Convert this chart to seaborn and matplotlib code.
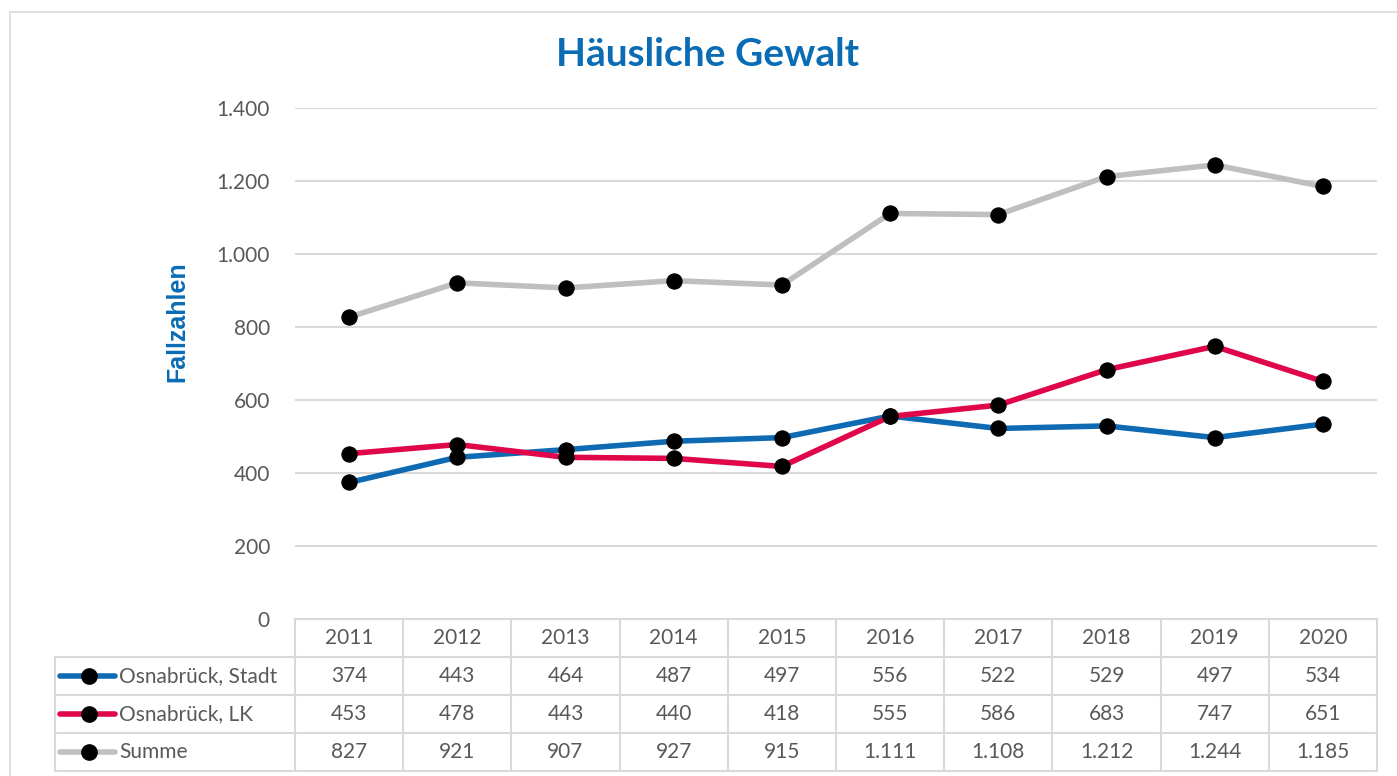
import matplotlib
matplotlib.use("Agg")
import matplotlib.pyplot as plt
import matplotlib.patches as mpatches
import pandas as pd
import seaborn as sns

# Data
years = [2011, 2012, 2013, 2014, 2015, 2016, 2017, 2018, 2019, 2020]
stadt = [374, 443, 464, 487, 497, 556, 522, 529, 497, 534]
lk = [453, 478, 443, 440, 418, 555, 586, 683, 747, 651]
summe = [827, 921, 907, 927, 915, 1111, 1108, 1212, 1244, 1185]
series_names = ["Osnabrück, Stadt", "Osnabrück, LK", "Summe"]
y_ticks = [0, 200, 400, 600, 800, 1000, 1200, 1400]

# Constants
W, H = 1397, 776
COL_BLUE = "#0e6ab3"
COL_RED = "#e0064a"
COL_GREY = "#bfbfbf"
COL_GRID = "#d9d9d9"
COL_TEXT = "#595959"
TITLE_BLUE = "#0a6cb5"
FS = 15

sns.set_style("white")
plt.rcParams["font.family"] = ["Lato", "DejaVu Sans"]


def de_fmt(v):
    return f"{v:,}".replace(",", ".")


df = pd.DataFrame({
    "Jahr": years * 3,
    "Wert": stadt + lk + summe,
    "Reihe": [series_names[0]] * 10 + [series_names[1]] * 10 + [series_names[2]] * 10,
})
palette = dict(zip(series_names, [COL_BLUE, COL_RED, COL_GREY]))

fig = plt.figure(figsize=(W / 100, H / 100), dpi=100)

# main plot area (pixels 295..1377 x, 108..619 y)
ax = fig.add_axes([295 / W, 1 - 619 / H, (1377 - 295) / W, (619 - 108) / H])
ax.set_facecolor("none")
for y in y_ticks[1:]:
    ax.axhline(y, color=COL_GRID, lw=1.5, zorder=0)

sns.lineplot(data=df, x="Jahr", y="Wert", hue="Reihe", hue_order=series_names,
             palette=palette, linewidth=4, marker="o", markersize=11,
             markerfacecolor="black", markeredgecolor="black", legend=False,
             sort=False, ax=ax, zorder=3)
ax.set_xlim(years[0] - 0.5, years[-1] + 0.5)
ax.set_ylim(0, 1400)
ax.set_yticks(y_ticks)
ax.set_yticklabels([de_fmt(v) for v in y_ticks], fontsize=FS, color=COL_TEXT)
ax.set_xticks([])
ax.tick_params(axis="y", length=0, pad=18)
ax.set_xlabel("")
ax.set_ylabel("")
sns.despine(ax=ax, left=True, bottom=True)

fig.text(177 / W, 1 - 322 / H, "Fallzahlen", rotation=90, ha="center", va="center",
         fontsize=18, fontweight="bold", color=TITLE_BLUE,
         family=["Liberation Sans", "DejaVu Sans"])
fig.text(708 / W, 1 - 54 / H, "Häusliche Gewalt", ha="center", va="center",
         fontsize=28, fontweight="bold", color=TITLE_BLUE)

# data table below (pixels 55..1377 x, 619..771 y)
px_per_year = (1377 - 295) / 10
x_left = years[0] - 0.5 - (295 - 55) / px_per_year
tax = fig.add_axes([55 / W, 1 - 771 / H, (1377 - 55) / W, (771 - 619) / H])
tax.set_xlim(x_left, years[-1] + 0.5)
tax.set_ylim(4, 0)
tax.axis("off")

lkw = dict(color=COL_GRID, lw=1.5, clip_on=False)
tax.plot([years[0] - 0.5, years[-1] + 0.5], [0, 0], **lkw)
for r in range(1, 5):
    tax.plot([x_left, years[-1] + 0.5], [r, r], **lkw)
tax.plot([x_left, x_left], [1, 4], **lkw)
for i in range(len(years) + 1):
    xv = years[0] - 0.5 + i
    tax.plot([xv, xv], [0, 4], **lkw)

for yr in years:
    tax.text(yr, 0.5, str(yr), ha="center", va="center", fontsize=FS, color=COL_TEXT)

rows = [stadt, lk, summe]
colors = [COL_BLUE, COL_RED, COL_GREY]


def px2yr(px):
    return years[0] - 0.5 + (px - 295) / px_per_year


for r, (name, vals, c) in enumerate(zip(series_names, rows, colors), start=1):
    yc = r + 0.5
    tax.plot([px2yr(60), px2yr(115)], [yc, yc], color=c, lw=4, solid_capstyle="round")
    tax.plot([px2yr(89)], [yc], marker="o", markersize=11, color="black")
    tax.text(px2yr(119), yc, name, ha="left", va="center", fontsize=FS, color=COL_TEXT)
    for yr, v in zip(years, vals):
        tax.text(yr, yc, de_fmt(v), ha="center", va="center", fontsize=FS, color=COL_TEXT)

# outer chart border
fig.patches.append(mpatches.Rectangle((10 / W, -0.1), 1.2, 1 - 12 / H + 0.1,
                                      transform=fig.transFigure, fill=False,
                                      edgecolor=COL_GRID, lw=1.2))

fig.savefig("out.png", dpi=100)
